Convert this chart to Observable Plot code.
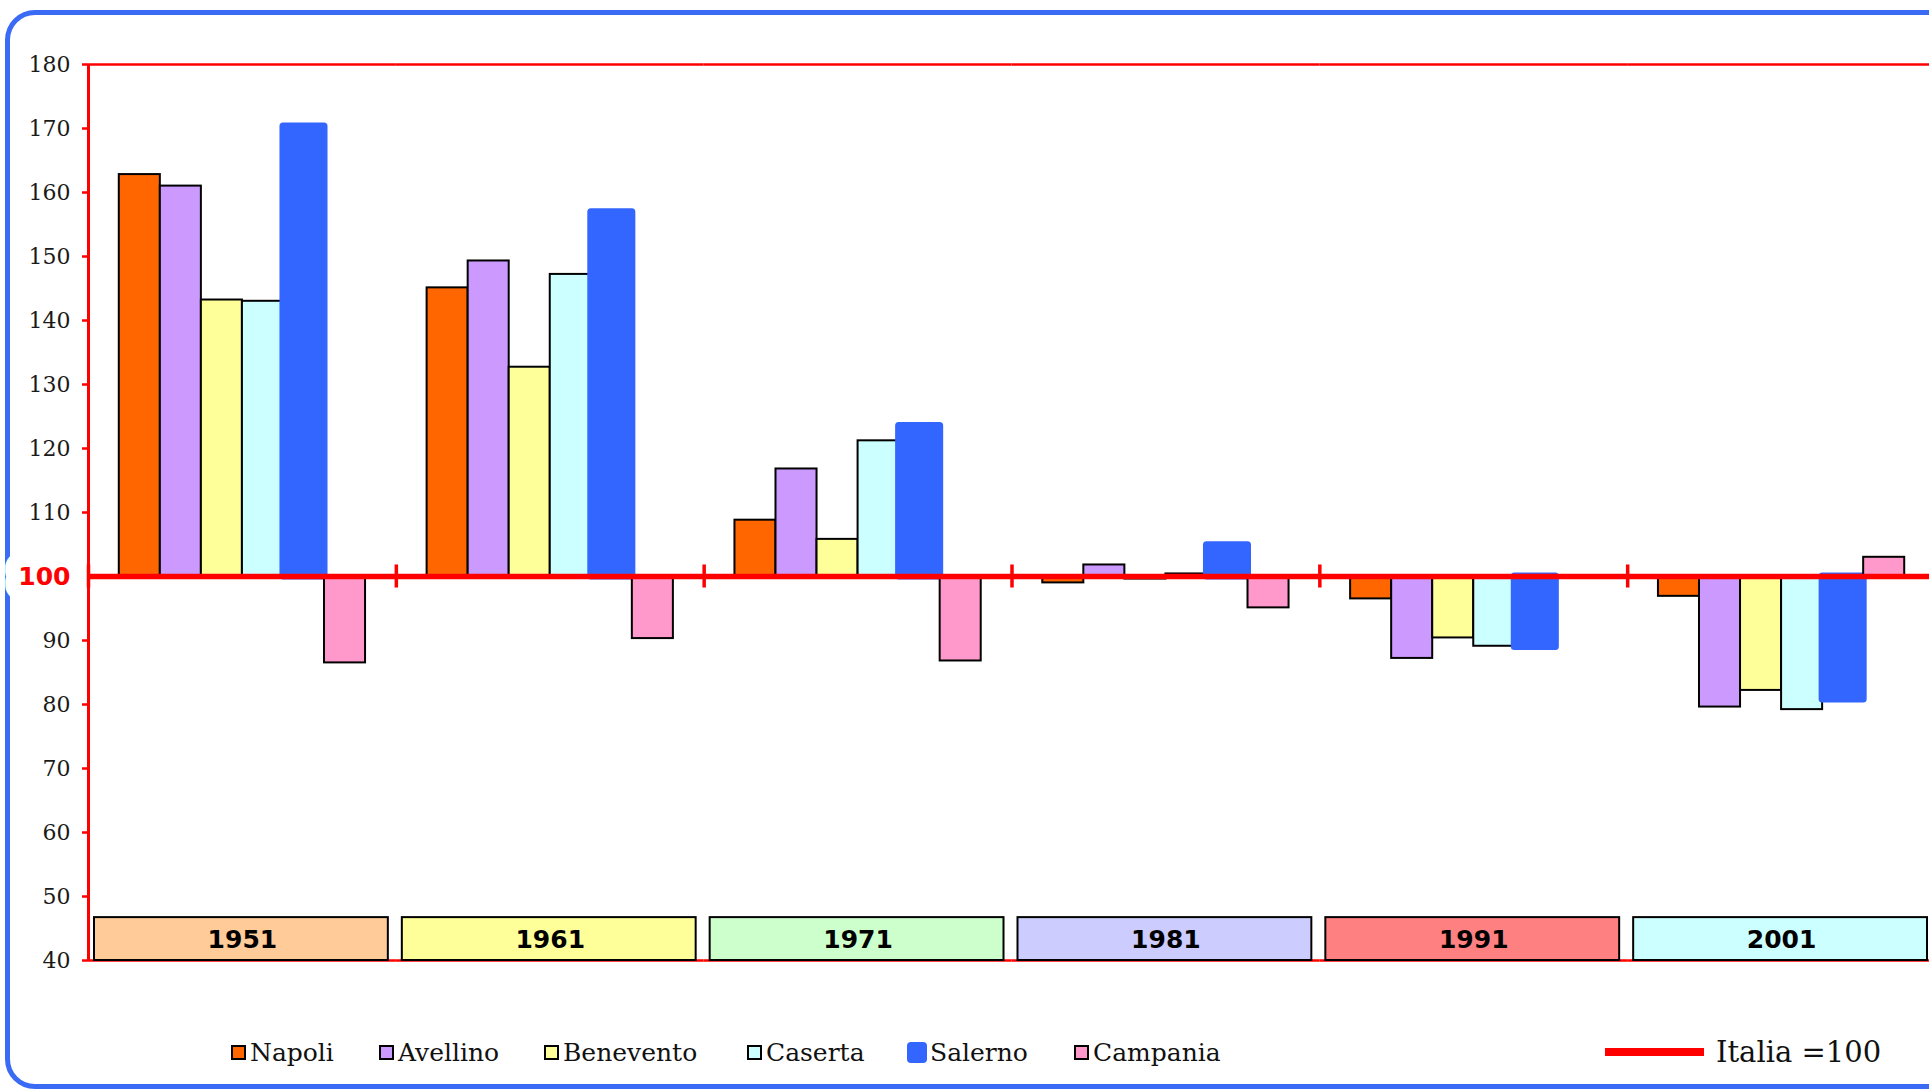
<!DOCTYPE html>
<html>
<head>
<meta charset="utf-8">
<script src="https://cdn.jsdelivr.net/npm/d3@7"></script>
<script src="https://cdn.jsdelivr.net/npm/@observablehq/plot@0.6"></script>
<style>
html, body { margin: 0; padding: 0; background: #fff; overflow: hidden; width: 1929px; height: 1090px; }
#border { position: absolute; left: 5px; top: 10px; width: 2000px; height: 1079px; box-sizing: border-box;
  border: 5px solid #3B6BF5; border-radius: 30px; z-index: 0; }
#chart { position: absolute; left: 0; top: 0; width: 1947px; z-index: 1; }
#chart svg { max-width: none !important; }
#legend { position: absolute; left: 0; top: 1030px; width: 1929px; height: 44px; z-index: 1; font-family: "DejaVu Serif", serif; color: #111; }
.item { position: absolute; top: 0; height: 44px; display: flex; align-items: center; font-size: 25px; white-space: nowrap; }
.sw { width: 15px; height: 15px; border: 2px solid #000; box-sizing: border-box; margin-right: 4px; }
.sw.round { width: 20px; height: 21px; border: none; border-radius: 4px; margin-right: 3px; }
.line { width: 99px; height: 8px; background: #FF0000; margin-right: 12px; }
</style>
</head>
<body>
<div id="border"></div>
<div id="chart"></div>
<div id="legend"></div>
<script>
// ---- data ----
const years = ["1951", "1961", "1971", "1981", "1991", "2001"];
const series = ["Napoli", "Avellino", "Benevento", "Caserta", "Salerno", "Campania"];
const Napoli    = [162.8, 145.1, 108.8,  99.0, 96.5, 96.9];
const Avellino  = [161.0, 149.3, 116.8, 101.8, 87.2, 79.6];
const Benevento = [143.2, 132.7, 105.8,  99.6, 90.4, 82.2];
const Caserta   = [143.0, 147.2, 121.2, 100.4, 89.1, 79.2];
const Salerno   = [170.3, 156.9, 123.5, 104.9, 89.0, 80.8];
const Campania  = [ 86.5,  90.3,  86.8,  95.1, 100.0, 103.0];
const yTicks = [40, 50, 60, 70, 80, 90, 110, 120, 130, 140, 150, 160, 170, 180];
const baseline = 100;
const referenceLabel = "Italia =100";

// ---- styles ----
const seriesColors = ["#FF6600", "#CC99FF", "#FFFF99", "#CCFFFF", "#3366FF", "#FF99CC"];
const yearColors = ["#FFCC99", "#FFFF99", "#CCFFCC", "#CCCCFF", "#FF8080", "#CCFFFF"];
const legendLeft = [231, 379, 544, 747, 907, 1074];

const valuesBySeries = {Napoli, Avellino, Benevento, Caserta, Salerno, Campania};
const rows = years.flatMap((year, i) => series.map(s => ({year, series: s, value: valuesBySeries[s][i]})));
const colorOf = s => seriesColors[series.indexOf(s)];

const W = 1947, H = 990, ML = 88, MR = 12, MT = 64, MB = 30;
const facetW = (W - ML - MR) / years.length;
const step = facetW / (series.length + 1.5);
const edge = -1.25 * step; // from centre of first band to facet edge

const barOpts = {fx: "year", x: "series", y1: baseline, y2: "value", fill: d => colorOf(d.series)};

const chart = Plot.plot({
  width: W, height: H,
  marginLeft: ML, marginRight: MR, marginTop: MT, marginBottom: MB,
  style: {background: "transparent", overflow: "visible", maxWidth: "none"},
  fx: {domain: years, padding: 0, round: false, axis: null},
  x: {domain: series, paddingInner: 0, paddingOuter: 0.75, round: false, axis: null},
  y: {domain: [40, 180], axis: null},
  marks: [
    Plot.ruleY([40], {stroke: "#FF0000", strokeWidth: 2.5}),
    Plot.ruleY([180], {stroke: "#FF0000", strokeWidth: 2.5}),
    Plot.rect(years, {fx: d => d, y1: 40, y2: 46.7, fill: (d, i) => yearColors[i],
      stroke: "#000", strokeWidth: 2, insetLeft: 6, insetRight: 8}),
    Plot.text(years, {fx: d => d, y: 43.2, text: d => d, fill: "#000",
      fontFamily: "DejaVu Sans", fontWeight: "bold", fontSize: 25}),
    Plot.barY(rows.filter(d => d.series !== "Salerno" && d.series !== "Campania"),
      {...barOpts, stroke: "#000", strokeWidth: 2}),
    Plot.barY(rows.filter(d => d.series === "Salerno"),
      {...barOpts, stroke: colorOf("Salerno"), strokeWidth: 7, strokeLinejoin: "round"}),
    Plot.barY(rows.filter(d => d.series === "Campania"),
      {...barOpts, stroke: "#000", strokeWidth: 2}),
    Plot.ruleY([baseline], {stroke: "#FF0000", strokeWidth: 5.3}),
    Plot.ruleX(years, {fx: d => d, x: () => series[0], dx: edge, y1: baseline - 1.8, y2: baseline + 1.8,
      stroke: "#FF0000", strokeWidth: 3.5}),
    Plot.ruleX([years[0]], {fx: d => d, x: () => series[0], dx: edge, y1: 40, y2: 180,
      stroke: "#FF0000", strokeWidth: 3}),
    Plot.axisY(yTicks, {anchor: "left", facetAnchor: "left", tickSize: 6, tickPadding: 12,
      stroke: "#FF0000", strokeWidth: 2.5, fill: "#1a1a1a", fontSize: 22, fontFamily: "DejaVu Serif",
      label: null, tickFormat: d => String(d)}),
    Plot.text([baseline], {fx: () => years[0], y: d => d, text: d => String(d), frameAnchor: "left",
      textAnchor: "end", dx: -18, fill: "#FF0000", fontFamily: "DejaVu Sans", fontWeight: "bold",
      fontSize: 25, stroke: "white", strokeWidth: 32})
  ]
});
document.getElementById("chart").appendChild(chart);

// ---- legend ----
const legend = document.getElementById("legend");
series.forEach((s, i) => {
  const item = document.createElement("div");
  item.className = "item";
  item.style.left = legendLeft[i] + "px";
  const sw = document.createElement("span");
  sw.className = s === "Salerno" ? "sw round" : "sw";
  sw.style.background = seriesColors[i];
  item.appendChild(sw);
  item.appendChild(document.createTextNode(s));
  legend.appendChild(item);
});
const ref = document.createElement("div");
ref.className = "item";
ref.style.left = "1605px";
ref.style.fontSize = "29px";
const line = document.createElement("span");
line.className = "line";
ref.appendChild(line);
ref.appendChild(document.createTextNode(referenceLabel));
legend.appendChild(ref);
</script>
</body>
</html>
